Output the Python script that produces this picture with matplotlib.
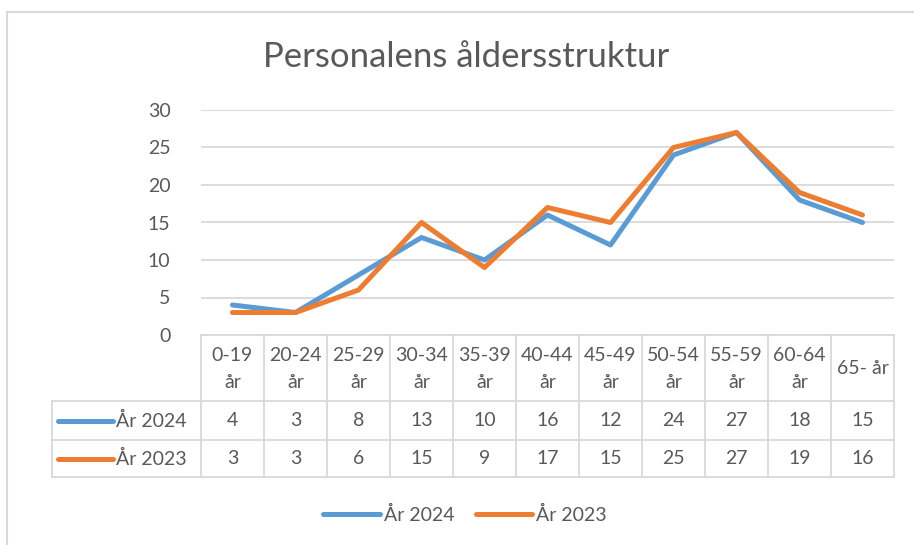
import matplotlib
matplotlib.use("Agg")
import matplotlib.pyplot as plt
from matplotlib.lines import Line2D
import matplotlib.transforms as mtransforms

plt.rcParams['font.family'] = ['Lato', 'DejaVu Sans']

title = "Personalens åldersstruktur"
categories = ["0-19\når", "20-24\når", "25-29\når", "30-34\når", "35-39\når",
              "40-44\når", "45-49\når", "50-54\når", "55-59\når", "60-64\når", "65- år"]
series_names = ["År 2024", "År 2023"]
values_2024 = [4, 3, 8, 13, 10, 16, 12, 24, 27, 18, 15]
values_2023 = [3, 3, 6, 15, 9, 17, 15, 25, 27, 19, 16]
yticks = [0, 5, 10, 15, 20, 25, 30]

colors = ["#5B9BD5", "#ED7D31"]
text_color = "#595959"
grid_color = "#D9D9D9"
fs = 14

W, H = 914, 545
fig = plt.figure(figsize=(W / 100, H / 100), dpi=100)

left, right, top, bottom = 201, 894, 110, 335
ax = fig.add_axes([left / W, 1 - bottom / H, (right - left) / W, (bottom - top) / H])
n = len(categories)
ax.set_xlim(-0.5, n - 0.5)
ax.set_ylim(0, 30)
ax.set_yticks(yticks)
ax.set_xticks([])
for s in ax.spines.values():
    s.set_visible(False)
ax.yaxis.grid(True, color=grid_color, linewidth=1.3)
ax.set_axisbelow(True)
ax.tick_params(axis='y', length=0, pad=22, labelsize=fs, labelcolor=text_color)

x = list(range(n))
data = [values_2024, values_2023]
for vals, c, name in zip(data, colors, series_names):
    ax.plot(x, vals, color=c, linewidth=3.6, solid_capstyle='round',
            solid_joinstyle='round', label=name, clip_on=False)

axh = bottom - top
def yf(py):
    return (bottom - py) / axh

trans = mtransforms.blended_transform_factory(ax.transData, ax.transAxes)
row_y = [335, 401, 440, 477]
label_left = -0.5 - (201 - 52) / 63.0
lw_t = 1.3
def hline(x0, x1, py):
    ax.add_line(Line2D([x0, x1], [yf(py), yf(py)], transform=trans, color=grid_color,
                       linewidth=lw_t, clip_on=False))
def vline(xx, py0, py1):
    ax.add_line(Line2D([xx, xx], [yf(py0), yf(py1)], transform=trans, color=grid_color,
                       linewidth=lw_t, clip_on=False))

hline(-0.5, n - 0.5, row_y[0])
hline(label_left, n - 0.5, row_y[1])
hline(label_left, n - 0.5, row_y[2])
hline(label_left, n - 0.5, row_y[3])
for i in range(n + 1):
    vline(i - 0.5, row_y[0], row_y[3])
vline(label_left, row_y[1], row_y[3])

for i, cat in enumerate(categories):
    ax.text(i, yf((row_y[0] + row_y[1]) / 2 + 1), cat, transform=trans, ha='center', va='center',
            fontsize=fs, color=text_color, linespacing=1.7, clip_on=False)
for r, (vals, c, name) in enumerate(zip(data, colors, series_names)):
    yc = yf((row_y[r + 1] + row_y[r + 2]) / 2)
    for i, v in enumerate(vals):
        ax.text(i, yc, str(v), transform=trans, ha='center', va='center',
                fontsize=fs, color=text_color, clip_on=False)
    kx0 = label_left + (58 - 52) / 63.0
    kx1 = label_left + (113 - 52) / 63.0
    ax.add_line(Line2D([kx0, kx1], [yc, yc], transform=trans, color=c, linewidth=3.6,
                       solid_capstyle='round', clip_on=False))
    ax.text(label_left + (116 - 52) / 63.0, yc, name, transform=trans, ha='left', va='center',
            fontsize=fs, color=text_color, clip_on=False)

fig.text(466 / W, 1 - 57 / H, title, ha='center', va='center', fontsize=25, color=text_color)

leg = fig.legend(loc='center', bbox_to_anchor=(465 / W, 1 - 515 / H), ncol=2, frameon=False,
                 fontsize=fs, handlelength=2.9, handletextpad=0.2, columnspacing=1.1,
                 labelcolor=text_color)

fig.add_artist(Line2D([7 / W, 7 / W], [0, 1 - 12 / H], color=grid_color, linewidth=1.5))
fig.add_artist(Line2D([7 / W, 1], [1 - 12 / H, 1 - 12 / H], color=grid_color, linewidth=1.5))

fig.savefig("out.png", dpi=100)
